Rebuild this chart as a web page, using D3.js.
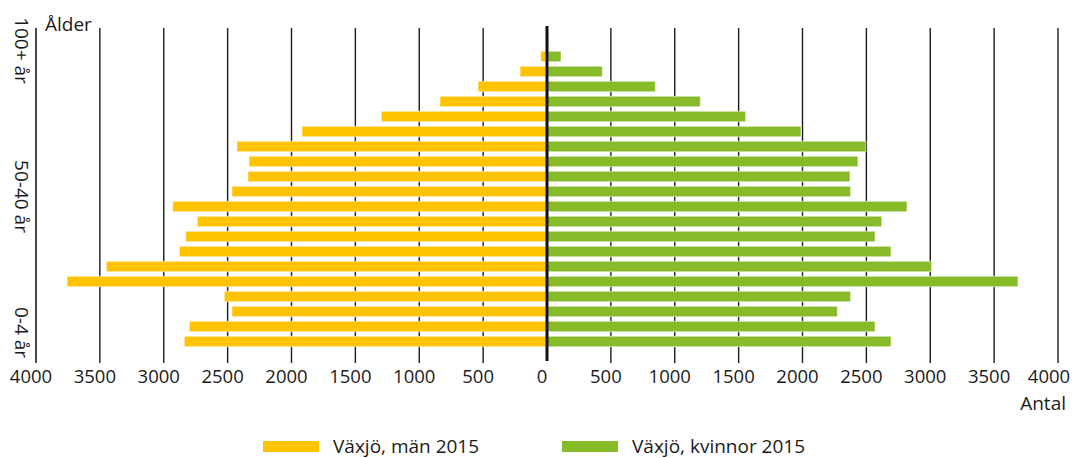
<!DOCTYPE html>
<html lang="sv">
<head>
<meta charset="utf-8">
<title>Växjö befolkning 2015</title>
<script src="https://cdn.jsdelivr.net/npm/d3@7"></script>
<style>
  html, body { margin: 0; padding: 0; background: #fff; }
  svg { display: block; font-family: 'Open Sans', sans-serif; }
  .lbl { font-size: 19px; fill: #1a1a1a; }
</style>
</head>
<body>
<script>
/* global d3 */
(function() {
  'use strict';

  // age groups, bottom to top
  const ages = ['0-4', '5-9', '10-14', '15-19', '20-24', '25-29', '30-34', '35-39',
    '40-44', '45-49', '50-54', '55-59', '60-64', '65-69', '70-74', '75-79',
    '80-84', '85-89', '90-94', '95-99', '100+'];
  const men = [2839, 2800, 2466, 2526, 3757, 3450, 2878, 2828, 2737, 2930, 2466,
    2341, 2333, 2427, 1918, 1297, 838, 540, 211, 49, 3];
  const women = [2693, 2568, 2273, 2377, 3687, 3011, 2693, 2568, 2620, 2818, 2377,
    2372, 2434, 2497, 1988, 1555, 1200, 848, 433, 110, 12];
  const ticks = [-4000, -3500, -3000, -2500, -2000, -1500, -1000, -500, 0,
    500, 1000, 1500, 2000, 2500, 3000, 3500, 4000];
  const ageLabels = [['100+', '100+ år', 9], ['50-54', '50-40 år', 5], ['0-4', '0-4 år', -9]];
  const seriesNames = ['Växjö, män 2015', 'Växjö, kvinnor 2015'];
  const colors = ['#ffc300', '#87bb29'];

  const w = 1075;
  const h = 458;
  const gridTop = 28;
  const gridBottom = 363;

  const xScale = d3.scaleLinear().domain([-4000, 4000]).range([36, 1058]);
  const yScale = d3.scaleBand().domain(ages).range([349, 34])
    .paddingInner(0.3).paddingOuter(0.15);

  const svg = d3.select('body').append('svg')
    .attr('width', w)
    .attr('height', h);

  // vertical grid lines (drawn under the bars)
  svg.append('g').selectAll('line')
    .data(ticks.filter(t => t !== 0))
    .enter()
    .append('line')
    .attr('x1', d => xScale(d))
    .attr('x2', d => xScale(d))
    .attr('y1', gridTop)
    .attr('y2', gridBottom)
    .attr('stroke', d => d === -4000 ? '#4a4a4a' : '#1a1a1a')
    .attr('stroke-width', d => d === -4000 ? 2 : 1.4);

  // men to the left
  svg.append('g').selectAll('rect')
    .data(ages)
    .enter()
    .append('rect')
    .attr('x', (d, i) => xScale(-men[i]))
    .attr('y', d => yScale(d))
    .attr('width', (d, i) => xScale(0) - xScale(-men[i]))
    .attr('height', yScale.bandwidth())
    .attr('fill', colors[0])
    .attr('stroke', 'rgba(255,255,255,0.55)')
    .attr('stroke-width', 1);

  // women to the right
  svg.append('g').selectAll('rect')
    .data(ages)
    .enter()
    .append('rect')
    .attr('x', xScale(0))
    .attr('y', d => yScale(d))
    .attr('width', (d, i) => xScale(women[i]) - xScale(0))
    .attr('height', yScale.bandwidth())
    .attr('fill', colors[1])
    .attr('stroke', 'rgba(255,255,255,0.55)')
    .attr('stroke-width', 1);

  // zero line
  svg.append('line')
    .attr('x1', xScale(0))
    .attr('x2', xScale(0))
    .attr('y1', 26)
    .attr('y2', 361)
    .attr('stroke', '#111')
    .attr('stroke-width', 3);

  // x tick labels, sit a little left of their lines
  svg.append('g').selectAll('text')
    .data(ticks)
    .enter()
    .append('text')
    .attr('class', 'lbl')
    .style('font-size', '18.5px')
    .attr('x', d => xScale(d) - (d === 4000 ? 9 : 5))
    .attr('y', 383)
    .attr('text-anchor', 'middle')
    .text(d => Math.abs(d));

  svg.append('text')
    .attr('class', 'lbl')
    .attr('x', 1066)
    .attr('y', 410)
    .attr('text-anchor', 'end')
    .text('Antal');

  svg.append('text')
    .attr('class', 'lbl')
    .attr('x', 45)
    .attr('y', 31)
    .text('Ålder');

  // rotated age labels
  svg.append('g').selectAll('text')
    .data(ageLabels)
    .enter()
    .append('text')
    .attr('class', 'lbl')
    .attr('text-anchor', 'middle')
    .attr('dominant-baseline', 'central')
    .attr('transform', d => 'translate(22,' + (yScale(d[0]) + yScale.bandwidth() / 2 + d[2]) + ') rotate(90)')
    .text(d => d[1]);

  // legend
  const legendX = [263, 562];
  const legend = svg.append('g').selectAll('g')
    .data(seriesNames)
    .enter()
    .append('g')
    .attr('transform', (d, i) => 'translate(' + legendX[i] + ',441)');
  legend.append('rect')
    .attr('width', 56)
    .attr('height', 11)
    .attr('fill', (d, i) => colors[i]);
  legend.append('text')
    .attr('class', 'lbl')
    .attr('x', 70)
    .attr('y', 12)
    .text(d => d);
}());
</script>
</body>
</html>
